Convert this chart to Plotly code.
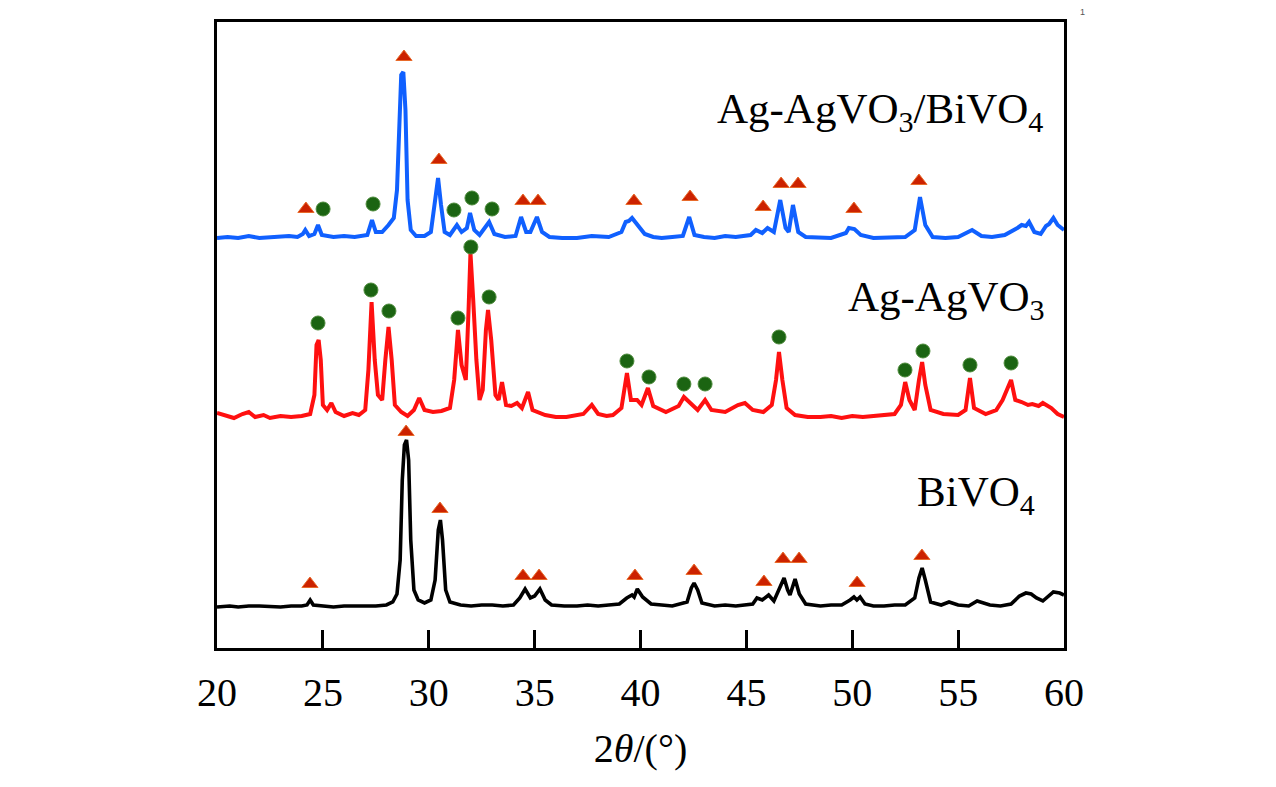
import plotly.graph_objects as go

# --- XRD patterns (2theta in deg, intensity in a.u. incl. stacking offset) ---
bivo4_2t = [20.0, 20.6, 21.0, 21.5, 22.0, 22.6, 23.0, 23.5, 24.0, 24.25, 24.4, 24.55, 25.0, 25.5,
            26.0, 26.6, 27.0, 27.5, 28.0, 28.3, 28.5,
            28.65, 28.75, 28.85, 28.95, 29.05, 29.15, 29.3, 29.5, 29.8, 30.1, 30.3, 30.45, 30.55,
            30.65, 30.8, 31.0, 31.5, 32.0, 32.5, 33.0, 33.5, 34.0, 34.3, 34.55, 34.8, 35.0, 35.25,
            35.5, 35.8, 36.4, 37.0, 37.5, 38.0, 38.5, 39.0, 39.35, 39.6, 39.7, 39.85, 40.1, 40.5,
            41.0, 41.5, 42.2, 42.4, 42.53, 42.7,
            42.9, 43.5, 44.0, 44.5, 45.3, 45.5, 45.75, 46.05, 46.3, 46.55, 46.78, 46.95, 47.06, 47.3,
            47.5, 47.8, 48.5, 49.0, 49.5, 49.9, 50.08, 50.22, 50.37, 50.6, 51.0, 51.5, 52.0, 52.5,
            52.95, 53.15, 53.3, 53.45, 53.7, 54.2, 54.57, 55.0, 55.5, 55.9, 56.5, 57.0, 57.5, 57.9,
            58.2, 58.45, 58.7, 59.0, 59.3, 59.5, 59.8, 60.0]
bivo4_i = [41, 42, 41, 42, 42, 41, 41, 42, 42, 43, 48, 43, 42, 41,
           42, 42, 42, 42, 43, 46, 54,
           88, 168, 203, 208, 188, 108, 58, 48, 45, 48, 68, 118, 128,
           108, 58, 46, 43, 42, 43, 43, 42, 43, 50, 59, 50, 52, 59,
           48, 43, 42, 42, 43, 42, 43, 44, 50, 53, 51, 59, 51, 44,
           43, 42, 46, 60, 65, 58,
           45, 42, 43, 42, 44, 50, 48, 53, 47, 58, 70, 58, 53, 69,
           54, 44, 42, 43, 43, 48, 51, 48, 51, 44, 42, 42, 43, 43,
           50, 70, 80, 68, 46, 43, 46, 43, 42, 47, 43, 42, 44, 52,
           55, 54, 50, 47, 53, 56, 55, 53]

agvo3_2t = [20.0, 20.4, 20.8, 21.2, 21.5, 21.8, 22.2, 22.5, 23.0, 23.5, 24.0, 24.4, 24.6, 24.7,
            24.8, 24.9, 25.0, 25.2, 25.4, 25.6, 26.0, 26.4, 26.7, 27.0, 27.15, 27.3, 27.45, 27.6,
            27.8, 27.95, 28.1, 28.25, 28.4, 28.7, 29.0, 29.3, 29.55, 29.8, 30.2, 30.6, 31.0, 31.2,
            31.38, 31.55, 31.75, 31.88, 31.97, 32.1, 32.25, 32.4, 32.55, 32.7, 32.8, 32.95, 33.15,
            33.3, 33.46, 33.65, 33.9, 34.17, 34.4, 34.69, 34.9, 35.5, 36.0, 36.5, 37.0, 37.3, 37.7,
            38.0, 38.4, 38.7, 39.1, 39.36, 39.55, 39.84, 40.05, 40.35, 40.6, 41.2, 41.8, 42.05,
            42.35, 42.7, 43.05, 43.35, 44.0, 44.6, 44.93, 45.3, 45.8, 46.2, 46.4, 46.54, 46.7,
            46.9, 47.3, 47.9, 48.5, 49.0, 49.5, 50.0, 50.5, 51.0, 51.5, 52.0, 52.3, 52.5, 52.7,
            52.95, 53.15, 53.3, 53.45, 53.7, 54.3, 55.0, 55.35, 55.56, 55.75, 56.3, 56.8, 57.1,
            57.5, 57.7, 58.0, 58.3, 58.5, 58.8, 59.0, 59.4, 59.7, 60.0]
agvo3_i = [235, 232, 230, 234, 236, 231, 233, 230, 232, 231, 232, 234, 253, 303,
           308, 288, 243, 238, 245, 236, 232, 235, 233, 238, 278, 346, 288, 253,
           248, 288, 321, 288, 243, 236, 232, 238, 250, 238, 236, 237, 240, 268,
           318, 283, 268, 338, 395, 348, 288, 248, 258, 318, 338, 308, 253,
           248, 266, 243, 242, 245, 240, 256, 238, 233, 231, 231, 233, 234, 243,
           234, 232, 233, 240, 275, 248, 248, 243, 260, 242, 236, 242, 251,
           245, 238, 248, 238, 236, 243, 245, 238, 236, 243, 268, 296, 268,
           240, 233, 231, 231, 232, 230, 232, 231, 232, 232, 234, 243, 266, 248,
           238, 268, 286, 263, 238, 234, 233, 238, 270, 240, 234, 238, 248,
           268, 248, 246, 243, 244, 242, 245, 240, 234, 231]

composite_2t = [20.0, 20.5, 21.0, 21.5, 22.0, 22.5, 23.0, 23.4, 23.8, 24.05, 24.17, 24.35, 24.6,
                24.77, 24.95, 25.5, 26.0, 26.5, 27.1, 27.32, 27.5, 27.8, 28.1, 28.35, 28.5, 28.6,
                28.7, 28.8, 28.9, 29.0, 29.15, 29.4, 29.8, 30.1, 30.3, 30.44, 30.58, 30.75, 31.0,
                31.33, 31.55, 31.8, 31.95, 32.15, 32.4, 32.85, 33.1, 33.6, 34.1, 34.36, 34.6, 34.8,
                35.11, 35.35, 35.7, 36.3, 37.0, 37.7, 38.5, 39.1, 39.3, 39.45, 39.6, 39.75, 39.9,
                40.2, 40.6, 41.0, 41.5, 42.0, 42.3, 42.55, 43.0, 43.5, 44.0, 44.5, 45.2, 45.45,
                45.75, 46.0, 46.3, 46.6, 46.85, 47.0, 47.2, 47.45, 47.8, 48.4, 49.0, 49.7, 49.84,
                50.1, 50.4, 51.0, 51.5, 52.0, 52.5, 52.95, 53.2, 53.45, 53.8, 54.4, 55.0, 55.66,
                56.1, 56.6, 57.2, 57.8, 58.0, 58.2, 58.35, 58.6, 58.9, 59.15, 59.3, 59.5, 59.7, 60.0]
composite_i = [410, 411, 410, 412, 410, 411, 411, 412, 411, 414, 418, 412, 414,
               423, 413, 411, 412, 411, 413, 428, 416, 416, 423, 430, 458, 528,
               573, 576, 538, 448, 418, 412, 412, 416, 448, 470, 443, 416, 413,
               423, 416, 420, 435, 418, 413, 426, 414, 411, 412, 431, 416, 416,
               431, 416, 411, 410, 410, 412, 411, 416, 426, 427, 430, 426, 423,
               414, 411, 410, 411, 412, 431, 413, 411, 410, 412, 411, 413, 418,
               415, 420, 416, 448, 420, 416, 443, 416, 411, 410, 410, 415, 420,
               419, 413, 410, 410, 411, 411, 418, 451, 423, 411, 410, 411, 418,
               412, 411, 413, 420, 423, 422, 426, 416, 414, 422, 424, 430, 423, 418]

# phase markers: triangles = BiVO4, circles = AgVO3
tri_bivo4_2t = [24.39, 28.93, 30.53, 34.45, 35.21, 39.74, 42.53, 45.83, 46.73, 47.49, 50.23, 53.29]
tri_bivo4_i = [64, 216, 139, 72, 72, 72, 77, 66, 89, 89, 65, 92]
dot_agvo3_2t = [24.77, 27.27, 28.12, 31.38, 31.99, 32.85, 39.36, 40.40, 42.05, 43.05, 46.54,
                52.49, 53.34, 55.56, 57.50]
dot_agvo3_i = [325, 358, 337, 330, 401, 351, 287, 271, 264, 264, 311, 278, 297, 283, 285]
tri_comp_2t = [24.20, 28.83, 30.48, 34.45, 35.16, 39.69, 42.34, 45.79, 46.64, 47.44, 50.08, 53.15]
tri_comp_i = [439, 591, 488, 447, 447, 447, 451, 441, 464, 464, 439, 467]
dot_comp_2t = [25.01, 27.37, 31.19, 32.04, 32.99]
dot_comp_i = [439, 444, 438, 450, 439]

x_ticks = [20, 25, 30, 35, 40, 45, 50, 55, 60]

TRI = "#cc2200"
DOT = "#1b6412"
FONT = "Liberation Serif, Times New Roman, serif"

fig = go.Figure()

fig.add_trace(go.Scatter(x=bivo4_2t, y=bivo4_i, mode="lines",
                         line=dict(color="#000000", width=3.6), name="BiVO4"))
fig.add_trace(go.Scatter(x=agvo3_2t, y=agvo3_i, mode="lines",
                         line=dict(color="#ff1010", width=4), name="Ag-AgVO3"))
fig.add_trace(go.Scatter(x=composite_2t, y=composite_i, mode="lines",
                         line=dict(color="#1060ff", width=4), name="Ag-AgVO3/BiVO4"))

tri_style = dict(symbol="triangle-up", size=14, color=TRI, line=dict(color="#e86a2a", width=1))
dot_style = dict(symbol="circle", size=14, color=DOT, line=dict(color="#4c8a3a", width=1))

fig.add_trace(go.Scatter(x=tri_bivo4_2t, y=tri_bivo4_i, mode="markers", marker=tri_style))
fig.add_trace(go.Scatter(x=tri_comp_2t, y=tri_comp_i, mode="markers", marker=tri_style))
fig.add_trace(go.Scatter(x=dot_agvo3_2t, y=dot_agvo3_i, mode="markers", marker=dot_style))
fig.add_trace(go.Scatter(x=dot_comp_2t, y=dot_comp_i, mode="markers", marker=dot_style))

# sample labels
labels = [
    ("Ag-AgVO<sub>3</sub>/BiVO<sub>4</sub>", 0.9776, 0.856),
    ("Ag-AgVO<sub>3</sub>", 0.980, 0.556),
    ("BiVO<sub>4</sub>", 0.968, 0.244),
]
for txt, xp, yp in labels:
    fig.add_annotation(text=txt, xref="paper", yref="paper", x=xp, y=yp,
                       xanchor="right", yanchor="middle", showarrow=False,
                       font=dict(family=FONT, size=43, color="#000000"))

# stray mark in the top right corner of the original
fig.add_annotation(text="1", xref="paper", yref="paper", x=1.027, y=1.027,
                   showarrow=False, font=dict(family="Liberation Sans", size=9, color="#555555"))

# page body adds an offset, so margins are shifted to keep the frame where the original has it
fig.update_layout(
    width=1276,
    height=787,
    margin=dict(l=209, r=220, t=14, b=147),
    paper_bgcolor="#ffffff",
    plot_bgcolor="#ffffff",
    showlegend=False,
    font=dict(family=FONT, color="#000000"),
)

fig.update_xaxes(
    range=[20, 60],
    tickvals=x_ticks,
    ticks="inside",
    ticklen=18,
    tickwidth=3,
    tickcolor="#000000",
    ticklabelstandoff=7,
    showline=True,
    linewidth=3,
    linecolor="#000000",
    mirror=True,
    showgrid=False,
    zeroline=False,
    tickfont=dict(family=FONT, size=40),
    title=dict(text="2<i>θ</i>/(°)", font=dict(family=FONT, size=40), standoff=20),
)
fig.update_yaxes(
    range=[0, 626],
    showticklabels=False,
    ticks="",
    showline=True,
    linewidth=3,
    linecolor="#000000",
    mirror=True,
    showgrid=False,
    zeroline=False,
)

fig.write_html("out.html")
